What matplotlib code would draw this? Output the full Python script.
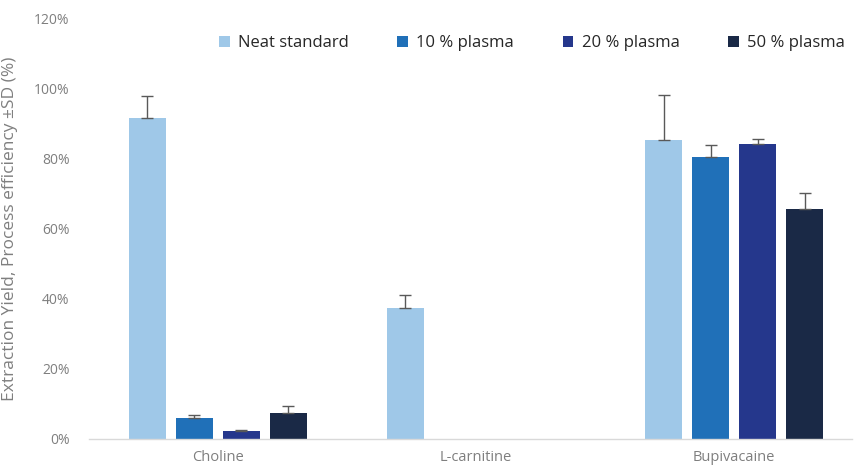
import matplotlib
matplotlib.use("Agg")
import matplotlib.pyplot as plt
import numpy as np
from matplotlib.patches import Patch

categories = ["Choline", "L-carnitine", "Bupivacaine"]
series = ["Neat standard", "10 % plasma", "20 % plasma", "50 % plasma"]
neat = [91.6, 37.2, 85.3]
neat_sd = [6.3, 3.8, 12.8]
p10 = [6.1, np.nan, 80.5]
p10_sd = [0.7, np.nan, 3.3]
p20 = [2.3, np.nan, 84.0]
p20_sd = [0.4, np.nan, 1.4]
p50 = [7.5, np.nan, 65.7]
p50_sd = [1.8, np.nan, 4.5]
yticks = [0, 20, 40, 60, 80, 100, 120]

values = [neat, p10, p20, p50]
sds = [neat_sd, p10_sd, p20_sd, p50_sd]
colors = ["#9fc8e8", "#2070b8", "#25378c", "#1a2946"]

plt.rcParams['font.family'] = ['Open Sans', 'DejaVu Sans']
fig = plt.figure(figsize=(8.56, 4.70), dpi=100)
ax = fig.add_axes([89/856, 31/470, (852-89)/856, (439-18)/470])

x = np.arange(len(categories))
step = 0.182
width = 0.143
for i, (v, s, c) in enumerate(zip(values, sds, colors)):
    pos = x + (i - 1.5) * step
    v = np.array(v, dtype=float)
    s = np.array(s, dtype=float)
    mask = ~np.isnan(v)
    ax.bar(pos[mask], v[mask], width=width, color=c, label=series[i], zorder=2)
    ax.errorbar(pos[mask], v[mask], yerr=[np.zeros(mask.sum()), s[mask]],
                fmt='none', ecolor="#595959", elinewidth=1.0, capsize=4,
                capthick=1.0, zorder=3)

ax.set_xlim(-0.499, 2.457)
ax.set_ylim(0, 120)
ax.set_yticks(yticks)
ax.set_yticklabels([f"{t}%" for t in yticks], color="#7f7f7f", fontsize=10)
ax.set_xticks(x)
ax.set_xticklabels(categories, color="#7f7f7f", fontsize=10.5)
ax.tick_params(axis='y', length=0, pad=14)
ax.tick_params(axis='x', length=0, pad=8)
for sp in ["top", "right", "left"]:
    ax.spines[sp].set_visible(False)
ax.spines["bottom"].set_color("#d9d9d9")
ax.spines["bottom"].set_linewidth(1.0)
ax.set_ylabel("Extraction Yield, Process efficiency \u00b1SD (%)", color="#7f7f7f",
              fontsize=12.5)
ax.yaxis.set_label_coords((18-89)/763, 0.5)

handles = [Patch(facecolor=c, edgecolor='none') for c in colors]
fig.legend(handles, series, loc="center", bbox_to_anchor=(532/856, 1 - 43/470),
           ncol=4, frameon=False, fontsize=12, handlelength=0.65, handleheight=0.65,
           handletextpad=0.5, columnspacing=2.9, labelcolor="#262626")

fig.savefig("out.png", dpi=100)
